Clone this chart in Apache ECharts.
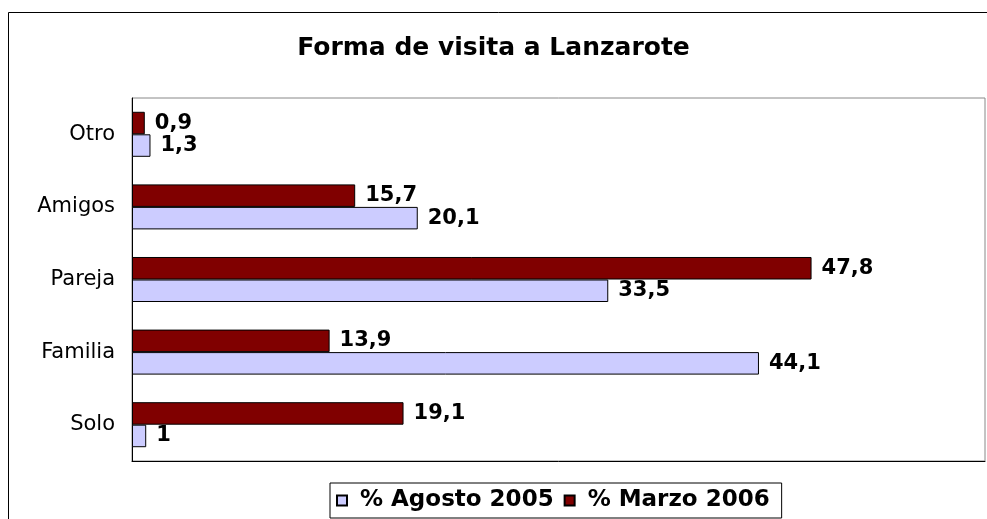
<!DOCTYPE html>
<html>
<head>
<meta charset="utf-8">
<script src="https://cdn.jsdelivr.net/npm/echarts@6/dist/echarts.min.js"></script>
<style>
  html, body { margin: 0; padding: 0; background: #fff; }
  #chart { width: 987px; height: 519px; }
</style>
</head>
<body>
<div id="chart"></div>
<script>
// categories, bottom to top
const categories = ["Solo", "Familia", "Pareja", "Amigos", "Otro"];
const agosto2005 = [1, 44.1, 33.5, 20.1, 1.3];
const marzo2006 = [19.1, 13.9, 47.8, 15.7, 0.9];

const FONT = "DejaVu Sans";
const fmt = (p) => String(p.value).replace(".", ",");

const valueLabel = {
  show: true, position: "right", distance: 10, formatter: fmt,
  fontFamily: FONT, fontSize: 21, fontWeight: "bold", color: "#000"
};

const chart = echarts.init(document.getElementById("chart"), null, { renderer: "canvas" });

chart.setOption({
  animation: false,
  backgroundColor: "#fff",
  title: {
    text: "Forma de visita a Lanzarote",
    left: "center",
    top: 31,
    textStyle: { fontFamily: FONT, fontSize: 25, fontWeight: "bold", color: "#000" }
  },
  // outer frame of the figure
  graphic: [{
    type: "rect",
    shape: { x: 8.5, y: 12.5, width: 990, height: 520 },
    style: { fill: "none", stroke: "#000", lineWidth: 1 },
    silent: true,
    z: -1
  }],
  legend: {
    bottom: 1,
    left: 330,
    itemWidth: 10,
    itemHeight: 10,
    itemGap: 10,
    icon: "rect",
    padding: [6, 12, 6, 6],
    borderColor: "#000",
    borderWidth: 1,
    formatter: (name) => " " + name,
    textStyle: { fontFamily: FONT, fontSize: 23, fontWeight: "bold", color: "#000" },
    data: ["% Agosto 2005", "% Marzo 2006"]
  },
  grid: {
    left: 132,
    right: 2,
    top: 98,
    bottom: 58,
    show: true,
    borderColor: "#888",
    borderWidth: 1
  },
  xAxis: {
    type: "value",
    min: 0,
    max: 60,
    axisLabel: { show: false },
    axisTick: { show: false },
    splitLine: { show: false },
    axisLine: { show: true, onZero: false, lineStyle: { color: "#000" } }
  },
  yAxis: {
    type: "category",
    data: categories,
    axisTick: { show: false },
    axisLine: { show: true, lineStyle: { color: "#000" } },
    axisLabel: { margin: 17, fontFamily: FONT, fontSize: 21, color: "#000" }
  },
  series: [
    {
      name: "% Marzo 2006",
      type: "bar",
      data: marzo2006,
      barGap: "0%",
      barCategoryGap: "38%",
      itemStyle: { color: "#800000", borderColor: "#000", borderWidth: 1 },
      label: valueLabel
    },
    {
      name: "% Agosto 2005",
      type: "bar",
      data: agosto2005,
      barGap: "0%",
      barCategoryGap: "38%",
      itemStyle: { color: "#ccccff", borderColor: "#000", borderWidth: 1 },
      label: valueLabel
    }
  ]
});
</script>
</body>
</html>
